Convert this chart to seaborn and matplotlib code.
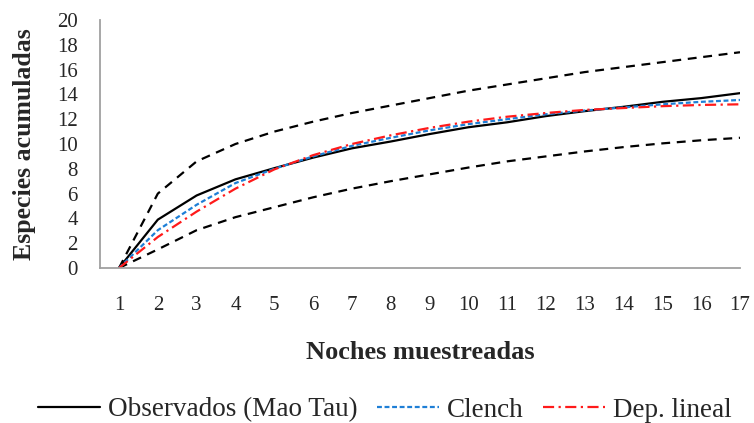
import matplotlib
matplotlib.use("Agg")
import matplotlib.pyplot as plt
import seaborn as sns
import numpy as np

sns.set_style("white")
plt.rcParams['font.family'] = ['Liberation Serif', 'DejaVu Serif']

noches = list(range(1, 18))
observados = [0, 3.9, 5.85, 7.15, 8.05, 8.9, 9.65, 10.2, 10.8, 11.35, 11.75, 12.25, 12.65, 13.0, 13.4, 13.7, 14.1]
clench = [0, 3.05, 5.1, 6.85, 8.0, 9.0, 9.85, 10.5, 11.1, 11.6, 12.0, 12.4, 12.7, 12.95, 13.2, 13.4, 13.55]
dep_lineal = [0, 2.5, 4.55, 6.4, 7.95, 9.1, 10.0, 10.7, 11.3, 11.8, 12.2, 12.5, 12.75, 12.9, 13.05, 13.15, 13.2]
ic_superior = [0, 6.0, 8.6, 10.0, 11.0, 11.8, 12.5, 13.1, 13.7, 14.3, 14.8, 15.3, 15.8, 16.2, 16.6, 17.0, 17.4]
ic_inferior = [0, 1.5, 3.05, 4.1, 4.9, 5.7, 6.4, 7.0, 7.55, 8.1, 8.6, 9.0, 9.4, 9.75, 10.05, 10.3, 10.5]

fig = plt.figure(figsize=(7.54, 4.23), dpi=100)
ax = fig.add_axes([100/754, 1 - 268/423, 640/754, 248/423])

sns.lineplot(x=noches, y=ic_superior, ax=ax, color='black', lw=1.6, linestyle=(0, (4, 3)))
sns.lineplot(x=noches, y=ic_inferior, ax=ax, color='black', lw=1.6, linestyle=(0, (4, 3)))
l1 = sns.lineplot(x=noches, y=observados, ax=ax, color='black', lw=1.6).lines[-1]
l2 = sns.lineplot(x=noches, y=clench, ax=ax, color='#1e7fd6', lw=1.6, linestyle=(0, (2.2, 1.2))).lines[-1]
l3 = sns.lineplot(x=noches, y=dep_lineal, ax=ax, color='#ff1a1a', lw=1.6, linestyle=(0, (5, 2, 1, 2))).lines[-1]

ax.set_xlim(0.51, 17.0)
ax.set_ylim(0, 20)
ax.set_xticks(noches)
ax.set_xticklabels([str(n) for n in noches])
ax.set_yticks(range(0, 21, 2))
ax.tick_params(axis='x', length=0, pad=20, labelsize=15)
ax.tick_params(axis='y', length=0, pad=16, labelsize=15)
for s in ['top', 'right']:
    ax.spines[s].set_visible(False)
for s in ['left', 'bottom']:
    ax.spines[s].set_color('#a0a0a0')
    ax.spines[s].set_linewidth(1.3)
ax.grid(False)

ax.set_xlabel('Noches muestreadas', fontsize=19, fontweight='bold', labelpad=19)
ax.set_ylabel('Especies acumuladas', fontsize=18.5, fontweight='bold', va='center')
ax.yaxis.set_label_coords(-76/640, 0.5)

fig.legend([l1, l2, l3], ['Observados (Mao Tau)', 'Clench', 'Dep. lineal'],
           loc='center', bbox_to_anchor=(385/754, 1 - 410/423), ncol=3, frameon=False,
           fontsize=19.5, handlelength=2.3, handletextpad=0.3, columnspacing=0.7)

fig.savefig('out.png', dpi=100)
